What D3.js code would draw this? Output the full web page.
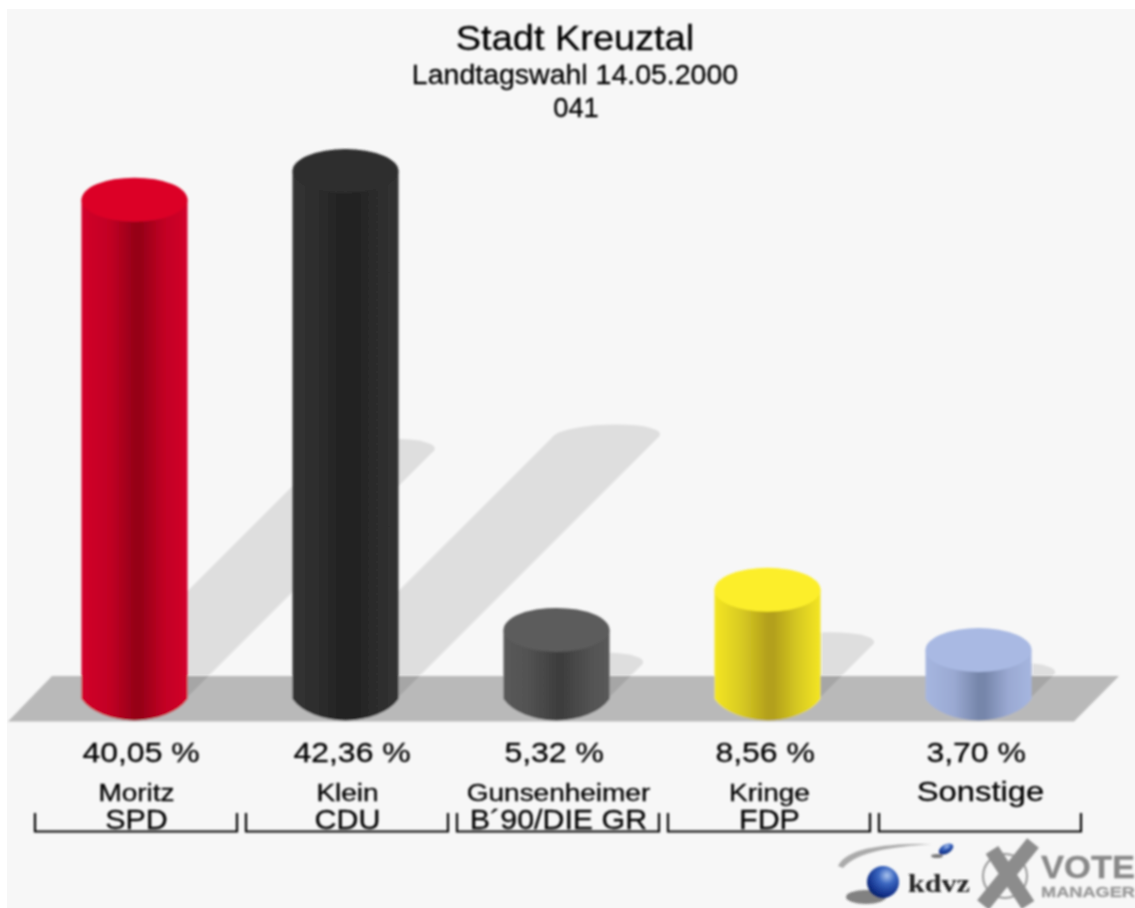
<!DOCTYPE html>
<html lang="de">
<head>
<meta charset="utf-8">
<title>Stadt Kreuztal</title>
<script src="https://cdn.jsdelivr.net/npm/d3@7/dist/d3.min.js"></script>
<style>
html,body{margin:0;padding:0;background:#fff;overflow:hidden}
svg{display:block}
text{font-family:"Liberation Sans",Arial,Helvetica,sans-serif;fill:#000;stroke:#000;stroke-width:0.3px}
</style>
</head>
<body>
<svg id="chart" width="1135" height="908"></svg>
<script>
const titleLines = ["Stadt Kreuztal", "Landtagswahl 14.05.2000", "041"];
const categories = ["SPD", "CDU", "B´90/DIE GR", "FDP", ""];
const candidates = ["Moritz", "Klein", "Gunsenheimer", "Kringe", "Sonstige"];
const values = [40.05, 42.36, 5.32, 8.56, 3.70];
const valueLabels = ["40,05 %", "42,36 %", "5,32 %", "8,56 %", "3,70 %"];
const capColors = ["#dc0028", "#2e2e2e", "#5c5c5c", "#fcee2a", "#a9b9e3"];
const edgeColors = ["#d2002a", "#323232", "#5a5a5a", "#f4e622", "#a6b6e0"];
const midColors = ["#c20024", "#2c2c2c", "#505050", "#d6c822", "#9aa9d2"];
const coreColors = ["#960018", "#202020", "#3e3e3e", "#b3a01a", "#7686aa"];

const svg = d3.select("#chart");
const defs = svg.append("defs");
defs.append("filter").attr("id", "soft")
  .attr("x", "-2%").attr("y", "-2%").attr("width", "104%").attr("height", "104%")
  .append("feGaussianBlur").attr("stdDeviation", 0.8);
defs.append("filter").attr("id", "softer")
  .append("feGaussianBlur").attr("stdDeviation", 1.1);

// Reference text is horizontally stretched; keep real text and widen its glyphs.
function stretch(sel, k) {
  sel.each(function (d, i) {
    const f = typeof k === "function" ? k(d, i) : k;
    const w = this.getComputedTextLength();
    if (w > 0) d3.select(this).attr("textLength", w * f).attr("lengthAdjust", "spacingAndGlyphs");
  });
}

// Scales
const band = d3.scaleBand().domain(d3.range(values.length)).range([35, 1081]).paddingInner(9 / 211);
const xBar = i => band(i) + band.bandwidth() / 2 - 1.5;
const xText = i => band(i) + band.bandwidth() / 2;
const y = d3.scaleLinear().domain([0, 45]).range([695.8, 695.8 - 557.5]);
const shadowLen = d3.scaleLinear().domain([0, 45]).range([0, 276.8]);

const barHalf = 53, capRy = 22, baseY = 699, floorTop = 676, floorBottom = 721.5;

values.forEach((v, i) => {
  const g = defs.append("linearGradient").attr("id", "bar" + i).attr("x1", 0).attr("x2", 1).attr("y1", 0).attr("y2", 0);
  [[0, edgeColors[i]], [0.27, midColors[i]], [0.5, coreColors[i]], [0.56, coreColors[i]], [0.78, midColors[i]], [1, edgeColors[i]]]
    .forEach(s => g.append("stop").attr("offset", s[0]).attr("stop-color", s[1]));
});

svg.append("rect").attr("x", 7).attr("y", 9).attr("width", 1128).attr("height", 899).attr("fill", "#f7f7f7");

const root = svg.append("g").attr("filter", "url(#soft)");

// Floor
const pathLine = d3.line();
root.append("path")
  .attr("d", pathLine([[8, floorBottom], [52, floorTop], [1119, floorTop], [1074, floorBottom]]) + "Z")
  .attr("fill", "#b9b9b9");

// Shadows
const shadows = root.append("g").attr("opacity", 0.1);
values.forEach((v, i) => {
  const d = shadowLen(v), cx = xBar(i), tx = cx + d, ty = 697 - d;
  shadows.append("path")
    .attr("d", pathLine([[cx - barHalf, 697], [cx + barHalf, 697], [tx + barHalf, ty], [tx - barHalf, ty]]) + "Z")
    .attr("fill", "#000");
  shadows.append("ellipse")
    .attr("transform", `translate(${tx},${ty}) skewX(-40)`)
    .attr("rx", barHalf).attr("ry", 12).attr("fill", "#000");
});

// Cylinders
const bars = root.selectAll("g.bar").data(values).join("g").attr("class", "bar");
bars.append("path")
  .attr("d", (v, i) => {
    const cx = xBar(i), t = y(v);
    return `M${cx - barHalf},${t}L${cx - barHalf},${baseY}A58,36 0 0 0 ${cx + barHalf},${baseY}L${cx + barHalf},${t}Z`;
  })
  .attr("fill", (v, i) => `url(#bar${i})`);
bars.append("ellipse")
  .attr("cx", (v, i) => xBar(i)).attr("cy", v => y(v))
  .attr("rx", barHalf).attr("ry", capRy)
  .attr("fill", (v, i) => capColors[i]);

// Titles
const titleStyle = [[34.5, 50, 1.10], [27, 84, 1.055], [27, 117, 1.01]];
root.selectAll("text.title").data(titleLines).join("text").attr("class", "title")
  .attr("x", (d, i) => i === 2 ? 576 : 575).attr("y", (d, i) => titleStyle[i][1])
  .attr("font-size", (d, i) => titleStyle[i][0])
  .attr("text-anchor", "middle").text(d => d)
  .call(stretch, (d, i) => titleStyle[i][2]);

// Value labels
root.selectAll("text.val").data(valueLabels).join("text").attr("class", "val")
  .attr("x", (d, i) => xBar(i) - 52).attr("y", 762)
  .attr("font-size", 28).text(d => d)
  .call(stretch, 1.14);

// Candidate labels
root.selectAll("text.cand").data(candidates).join("text").attr("class", "cand")
  .attr("x", (d, i) => xText(i) + 0.5).attr("y", 801)
  .attr("font-size", (d, i) => categories[i] ? 23.5 : 28)
  .attr("text-anchor", "middle").text(d => d)
  .call(stretch, (d, i) => categories[i] ? 1.19 : 1.17);

// Party labels
root.selectAll("text.party").data(categories).join("text").attr("class", "party")
  .attr("x", (d, i) => xText(i) + 0.5).attr("y", 829)
  .attr("font-size", 28).attr("text-anchor", "middle").text(d => d)
  .call(stretch, 1.085);

// Brackets
const bracket = root.append("g").attr("fill", "none").attr("stroke", "#000").attr("stroke-width", 2.2);
categories.forEach((c, i) => {
  const x0 = band(i), x1 = x0 + band.bandwidth();
  bracket.append("path").attr("d", pathLine([[x0, 813], [x0, 831.5], [x1, 831.5], [x1, 813]]));
});

// Logo
const logo = svg.append("g").attr("filter", "url(#softer)");
const g1 = defs.append("radialGradient").attr("id", "globe").attr("cx", "62%").attr("cy", "30%").attr("r", "75%");
[[0, "#aac4ee"], [0.35, "#3a66c0"], [0.8, "#12308a"], [1, "#0c1f5c"]]
  .forEach(s => g1.append("stop").attr("offset", s[0]).attr("stop-color", s[1]));
logo.append("ellipse").attr("cx", 866).attr("cy", 897).attr("rx", 20).attr("ry", 7).attr("fill", "#333").attr("opacity", 0.6);
logo.append("path").attr("d", "M838,866C846,848 885,843 932,844C892,847 858,851 843,868Z").attr("fill", "#aaa");
logo.append("circle").attr("cx", 883).attr("cy", 882).attr("r", 16).attr("fill", "url(#globe)");
logo.append("ellipse").attr("cx", 946).attr("cy", 849).attr("rx", 8).attr("ry", 4.5)
  .attr("transform", "rotate(-30 946 849)").attr("fill", "url(#globe)");
logo.append("ellipse").attr("cx", 937).attr("cy", 856).attr("rx", 6).attr("ry", 2).attr("fill", "#444").attr("opacity", 0.7);
logo.append("text").attr("x", 908).attr("y", 892).attr("font-size", 25).attr("font-weight", 700)
  .attr("textLength", 62).attr("lengthAdjust", "spacingAndGlyphs")
  .style("font-family", "'Liberation Serif',serif").style("fill", "#222").style("stroke", "none").text("kdvz");
logo.append("circle").attr("cx", 1005).attr("cy", 876).attr("r", 22).attr("fill", "none").attr("stroke", "#999").attr("stroke-width", 2);
logo.append("path").attr("d", "M992,850L1028,905M1033,843L983,905").attr("fill", "none").attr("stroke", "#8c8c8c").attr("stroke-width", 15);
logo.append("text").attr("x", 1041).attr("y", 877.5).attr("font-size", 31).attr("font-weight", 700)
  .attr("textLength", 94).attr("lengthAdjust", "spacingAndGlyphs").style("fill", "#888").style("stroke", "#888").text("VOTE");
logo.append("text").attr("x", 1041).attr("y", 897).attr("font-size", 15).attr("font-weight", 700)
  .attr("textLength", 94).attr("lengthAdjust", "spacingAndGlyphs").style("fill", "#999").style("stroke", "#999").text("MANAGER");
</script>
</body>
</html>
